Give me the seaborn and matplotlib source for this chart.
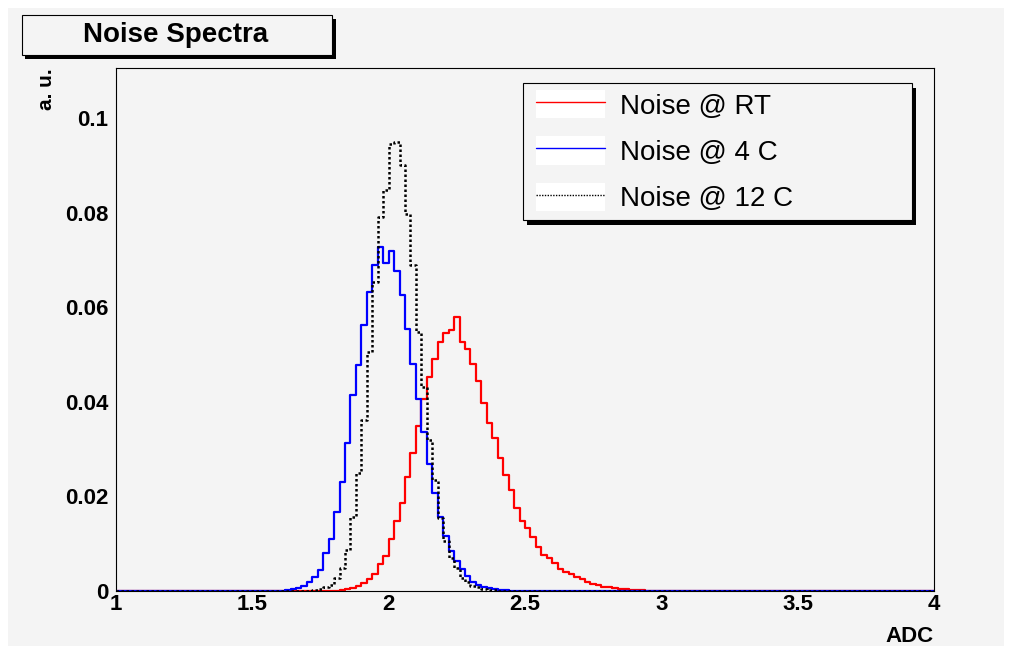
import numpy as np
import pandas as pd
import matplotlib
matplotlib.use("Agg")
import matplotlib.pyplot as plt
import seaborn as sns
from matplotlib.patches import Rectangle, Patch
from matplotlib.lines import Line2D

# ---------------- data (normalised noise spectra, bin width 0.02 ADC) ----------------
bin_lo, bin_hi, bin_w = 1.0, 4.0, 0.02

rt_start = 1.80
rt_values = [0.0001, 0.0002, 0.0004, 0.0007, 0.0011, 0.0016, 0.0025, 0.0035, 0.0057, 0.0075,
             0.0109, 0.0148, 0.0187, 0.0242, 0.0292, 0.0349, 0.0406, 0.0453, 0.0490, 0.0527,
             0.0545, 0.0552, 0.0580, 0.0526, 0.0511, 0.0480, 0.0445, 0.0398, 0.0356, 0.0323,
             0.0281, 0.0245, 0.0214, 0.0175, 0.0148, 0.0134, 0.0114, 0.0092, 0.0076, 0.0069,
             0.0059, 0.0046, 0.0041, 0.0036, 0.0030, 0.0025, 0.0020, 0.0015, 0.0012, 0.0009,
             0.0008, 0.0006, 0.0005, 0.0004, 0.0003, 0.0002, 0.0002, 0.0001, 0.0001]

c4_start = 1.48
c4_values = [0.0001, 0.0001, 0.0001, 0.0001, 0.0001, 0.0001,
             0.0001, 0.0002, 0.0004, 0.0006, 0.0011, 0.0020, 0.0030, 0.0044, 0.0080, 0.0111,
             0.0168, 0.0231, 0.0312, 0.0414, 0.0478, 0.0562, 0.0633, 0.0689, 0.0728, 0.0694,
             0.0719, 0.0677, 0.0626, 0.0555, 0.0480, 0.0407, 0.0337, 0.0268, 0.0208, 0.0156,
             0.0116, 0.0085, 0.0063, 0.0046, 0.0032, 0.0020, 0.0013, 0.0009, 0.0007, 0.0005,
             0.0003, 0.0002, 0.0001]

c12_start = 1.70
c12_values = [0.0001, 0.0003, 0.0005, 0.0008, 0.0013, 0.0027, 0.0048, 0.0087, 0.0157, 0.0249,
              0.0362, 0.0506, 0.0654, 0.0791, 0.0848, 0.0946, 0.0950, 0.0901, 0.0798, 0.0689,
              0.0548, 0.0431, 0.0319, 0.0235, 0.0154, 0.0106, 0.0069, 0.0048, 0.0027, 0.0018,
              0.0011, 0.0008, 0.0005, 0.0003, 0.0002]

series_names = ["Noise @ RT", "Noise @ 4 C", "Noise @ 12 C"]
series_colors = ["#ff0000", "#0000ff", "#000000"]

x_ticks = [1, 1.5, 2, 2.5, 3, 3.5, 4]
x_ticklabels = ["1", "1.5", "2", "2.5", "3", "3.5", "4"]
y_ticks = [0, 0.02, 0.04, 0.06, 0.08, 0.1]
y_ticklabels = ["0", "0.02", "0.04", "0.06", "0.08", "0.1"]

# ---------------- build full histograms ----------------
n_bins = int(round((bin_hi - bin_lo) / bin_w))
edges = bin_lo + bin_w * np.arange(n_bins + 1)
centers = 0.5 * (edges[:-1] + edges[1:])


def full_hist(start, vals):
    h = np.zeros(n_bins)
    i0 = int(round((start - bin_lo) / bin_w))
    h[i0:i0 + len(vals)] = vals
    return h


frames = []
for name, (s, v) in zip(series_names, [(rt_start, rt_values), (c4_start, c4_values), (c12_start, c12_values)]):
    frames.append(pd.DataFrame({"ADC": centers, "w": full_hist(s, v), "series": name}))
df = pd.concat(frames, ignore_index=True)

# ---------------- figure ----------------
sns.set_theme(style="white")
plt.rcParams['font.family'] = ['Liberation Sans', 'DejaVu Sans']
plt.rcParams['text.color'] = 'black'

W, H = 1016, 654
BG = "#f4f4f4"
fig = plt.figure(figsize=(W / 100, H / 100), dpi=100, facecolor="white")


def fbox(x0, y0, x1, y1):
    return (x0 / W, 1 - y1 / H), (x1 - x0) / W, (y1 - y0) / H


xy, w, h = fbox(8, 8, 1004, 646)
fig.patches.append(Rectangle(xy, w, h, transform=fig.transFigure, facecolor=BG,
                             edgecolor="none", zorder=-10))

ax_l, ax_r, ax_t, ax_b = 116, 934, 68, 591
ax = fig.add_axes([ax_l / W, 1 - ax_b / H, (ax_r - ax_l) / W, (ax_b - ax_t) / H])
ax.set_facecolor(BG)

styles = {"Noise @ RT": dict(lw=1.6, ls="-"),
          "Noise @ 4 C": dict(lw=1.6, ls="-"),
          "Noise @ 12 C": dict(lw=1.8, ls=(0, (1.0, 1.0)))}
for name, col in zip(series_names, series_colors):
    sub = df[df["series"] == name]
    sns.histplot(data=sub, x="ADC", weights="w", bins=n_bins, binrange=(bin_lo, bin_hi),
                 element="step", fill=False,
                 color=col, linewidth=styles[name]["lw"], linestyle=styles[name]["ls"],
                 ax=ax, legend=False)

ax.set_xlim(bin_lo, bin_hi)
ax.set_ylim(0, 0.1106)
ax.set_xlabel("")
ax.set_ylabel("")
ax.set_xticks(x_ticks)
ax.set_xticklabels(x_ticklabels)
ax.set_xticks(np.round(np.arange(1, 4.001, 0.1), 2), minor=True)
ax.set_yticks(y_ticks)
ax.set_yticklabels(y_ticklabels)
ax.set_yticks(np.round(np.arange(0, 0.1106, 0.005), 3), minor=True)

for lab in ax.get_xticklabels() + ax.get_yticklabels():
    lab.set_fontweight("bold")
    lab.set_fontsize(16)
    lab.set_color("black")

ax.tick_params(axis="x", which="major", direction="in", length=11.3, width=0.8, pad=2.5,
               top=False, colors="black")
ax.tick_params(axis="x", which="minor", direction="in", length=5.6, width=0.8, top=False)
ax.tick_params(axis="y", which="major", direction="in", length=17.6, width=0.8, pad=5.5,
               right=False, colors="black")
ax.tick_params(axis="y", which="minor", direction="in", length=8.8, width=0.8, right=False)
for sp in ax.spines.values():
    sp.set_color("black")
    sp.set_linewidth(0.8)

# axis titles
fig.text(934 / W, 1 - 636 / H, "ADC", ha="right", va="center", fontweight="bold",
         fontsize=16, color="black")
fig.text(46 / W, 1 - 68 / H, "a. u.", rotation=90, ha="center", va="top",
         fontweight="bold", fontsize=15, color="black")

# title box with shadow
xy, w, h = fbox(25, 19, 336, 59)
fig.patches.append(Rectangle(xy, w, h, transform=fig.transFigure, facecolor="black",
                             edgecolor="none", zorder=2))
xy, w, h = fbox(22, 15, 332, 55)
fig.patches.append(Rectangle(xy, w, h, transform=fig.transFigure, facecolor=BG,
                             edgecolor="black", linewidth=0.8, zorder=2.1))
fig.text(176 / W, 1 - 35 / H, "Noise Spectra", ha="center", va="center",
         fontweight="bold", fontsize=20, zorder=3, color="black")

# legend box with shadow
xy, w, h = fbox(527, 88, 916, 225)
fig.patches.append(Rectangle(xy, w, h, transform=fig.transFigure, facecolor="black",
                             edgecolor="none", zorder=3))
xy, w, h = fbox(523, 83, 912, 220)
fig.patches.append(Rectangle(xy, w, h, transform=fig.transFigure, facecolor=BG,
                             edgecolor="black", linewidth=0.8, zorder=3.1))

handles = []
for name, col in zip(series_names, series_colors):
    ls = "-" if name != "Noise @ 12 C" else (0, (1.0, 1.0))
    handles.append((Patch(facecolor="white", edgecolor="none"),
                    Line2D([], [], color=col, lw=1.0, ls=ls)))
leg = fig.legend(handles, series_names, loc="upper left",
                 bbox_to_anchor=(536 / W, 1 - 90 / H), bbox_transform=fig.transFigure,
                 frameon=False, fontsize=20, borderpad=0, borderaxespad=0,
                 handlelength=2.48, handleheight=1.19, labelspacing=0.61,
                 handletextpad=0.56)
leg.set_zorder(5)
for t in leg.get_texts():
    t.set_color("black")

fig.savefig("out.png", dpi=100, facecolor="white")
